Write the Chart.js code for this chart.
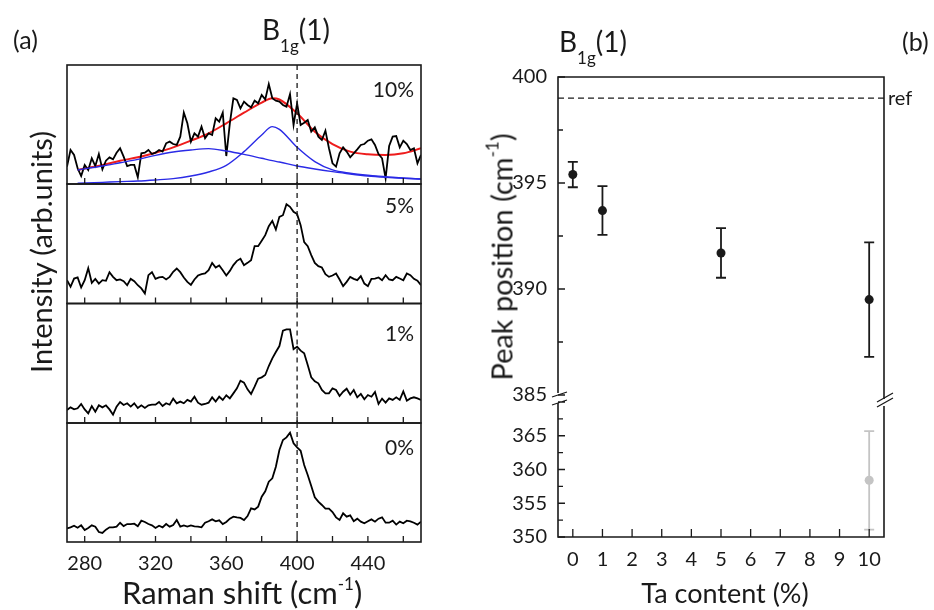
<!DOCTYPE html>
<html>
<head>
<meta charset="utf-8">
<script src="https://cdn.jsdelivr.net/npm/chart.js@4.4.0/dist/chart.umd.min.js"></script>
<style>
  body { margin: 0; background: #fff; }
  #figure { position: relative; width: 934px; height: 610px; overflow: hidden; font-family: Lato, "Open Sans", sans-serif; color: #1a1a1a; }
  #figure canvas { position: absolute; left: 0; top: 0; }
  .txt { position: absolute; white-space: nowrap; line-height: 1; z-index: 2; }
  .vtxt { position: absolute; white-space: nowrap; line-height: 1; z-index: 2; transform: translate(-50%, -50%) rotate(-90deg); }
  .txt sub, .vtxt sub { font-size: 17px; vertical-align: -12px; line-height: 0; }
  .txt sup, .vtxt sup { font-size: 17px; vertical-align: 14px; line-height: 0; }
</style>
</head>
<body>
<div id="figure">
  <div class="txt" style="left:13px; top:27px; font-size:25px;">(a)</div>
  <div class="txt" style="left:262px; top:15px; font-size:28px;">B<sub>1g</sub>(1)</div>
  <div class="txt" style="right:520px; top:78px; font-size:21px;">10%</div>
  <div class="txt" style="right:520px; top:194px; font-size:21px;">5%</div>
  <div class="txt" style="right:520px; top:322px; font-size:21px;">1%</div>
  <div class="txt" style="right:520px; top:436px; font-size:21px;">0%</div>
  <div class="vtxt" style="left:40px; top:252px; font-size:29px;">Intensity (arb.units)</div>
  <div class="txt" style="left:122px; top:577px; font-size:31px;">Raman shift (cm<sup>-1</sup>)</div>

  <div class="txt" style="left:559px; top:27px; font-size:28px;">B<sub>1g</sub>(1)</div>
  <div class="txt" style="left:902px; top:29px; font-size:25px;">(b)</div>
  <div class="txt" style="left:888px; top:87px; font-size:20px;">ref</div>
  <div class="vtxt" style="left:501px; top:257px; font-size:29px;">Peak position (cm<sup>-1</sup>)</div>
  <div class="txt" style="left:725px; top:579px; font-size:27px; transform:translateX(-50%);">Ta content (%)</div>
</div>

<script>
// Raman shift grid (cm-1) shared by the four spectra
const shift = [
  270, 272, 274, 276, 278, 280, 282, 284, 286, 288,
  290, 292, 294, 296, 298, 300, 302, 304, 306, 308,
  310, 312, 314, 316, 318, 320, 322, 324, 326, 328,
  330, 332, 334, 336, 338, 340, 342, 344, 346, 348,
  350, 352, 354, 356, 358, 360, 362, 364, 366, 368,
  370, 372, 374, 376, 378, 380, 382, 384, 386, 388,
  390, 392, 394, 396, 398, 400, 402, 404, 406, 408,
  410, 412, 414, 416, 418, 420, 422, 424, 426, 428,
  430, 432, 434, 436, 438, 440, 442, 444, 446, 448,
  450, 452, 454, 456, 458, 460, 462, 464, 466, 468,
  470
];

// intensities, arbitrary units (0 = bottom, 100 = top of each panel)
const spec10 = [
  14.6, 28.6, 24.4, 13.2, 6.7, 16, 11.8, 21.6, 15.1, 25.2,
  12.3, 19.6, 22.4, 20.7, 26.3, 30, 23, 15.1, 16, 16,
  5.6, 25.8, 26.3, 28.6, 25.2, 26.3, 28.6, 27.2, 34.2, 35.6,
  33.6, 32.8, 39.8, 59.9, 51, 35.6, 42.6, 39.8, 48.2, 38.4,
  42.6, 41.2, 55.2, 52.4, 59.9, 23.5, 51, 72, 70.6, 63.6,
  69.2, 66.4, 64.4, 70, 67.8, 74.8, 71.1, 84, 72, 70,
  69.2, 66.4, 65, 75.6, 49.6, 67.8, 49.6, 51.5, 53.8, 44,
  47.6, 39.8, 37, 44.8, 30, 17.4, 14.6, 25.8, 30.8, 27.2,
  22.4, 25.8, 29.1, 32.8, 33.6, 36.4, 37.5, 32.8, 25.2, 21.6,
  4.8, 31.9, 39.8, 40.3, 30.8, 36.4, 33.6, 28.6, 30, 17.4,
  24.4
];
const spec5 = [
  19.5, 14, 20.9, 21.8, 13.4, 19.5, 29.6, 17.3, 20.6, 16.7,
  19.5, 19, 26.2, 22.3, 19.5, 20.1, 18.7, 15.3, 20.6, 18.7,
  15.3, 12.6, 8.4, 23.7, 26.2, 20.6, 21.8, 22.3, 20.1, 22.3,
  26.5, 29.3, 26.2, 21.8, 18.1, 15.6, 20.1, 23.4, 24.6, 25.1,
  27.9, 34, 30.1, 31.8, 27.9, 23.4, 27.3, 32.1, 35.7, 37.4,
  32.1, 34, 36.3, 48, 48, 52.5, 57.2, 64.7, 69.2, 61.9,
  72.5, 73.9, 83.1, 80.9, 76.7, 74.8, 65.6, 51.3, 48, 40.5,
  34, 31.2, 30.1, 24.6, 22.3, 23.4, 25.1, 20.1, 14.5, 18.1,
  22.3, 20.6, 19.5, 22.9, 16.7, 14.5, 20.6, 20.9, 21.8, 19.5,
  23.7, 20.1, 19.5, 22.3, 20.9, 19.5, 25.1, 23.7, 20.6, 19,
  15.3
];
const spec1 = [
  10.9, 13.1, 11.4, 12.3, 15.9, 11.4, 8.1, 14.2, 9.5, 14.8,
  13.1, 14.8, 11.4, 7, 13.7, 17.6, 15.1, 16.5, 13.7, 16.5,
  12.6, 14.8, 12.6, 14.8, 15.3, 15.3, 17.6, 14.2, 16.5, 15.3,
  20.4, 16.5, 17.9, 16.5, 19.3, 17.9, 22, 17, 15.3, 15.9,
  17, 21.5, 17.9, 22, 19.3, 23.2, 20.6, 24.8, 29, 35.4,
  33.8, 28.2, 24.3, 30.4, 37.1, 38.2, 40.2, 47.7, 54.1, 59.4,
  64.4, 77.3, 78.4, 78.4, 61.7, 63.9, 60.5, 58.3, 48.5, 38.2,
  34.9, 33.2, 27.6, 24.8, 24.8, 29, 27.6, 22.6, 26.2, 28.7,
  23.7, 27.6, 21.5, 24.3, 19.8, 23.4, 22, 25.9, 15.9, 20.4,
  17, 20.6, 19.3, 21.5, 19.3, 26.5, 18.7, 20.6, 21.5, 20.6,
  19.3
];
const spec0 = [
  11.5, 12.3, 13.7, 12, 14, 10.1, 11.8, 14, 12.9, 8.4,
  7.6, 10.4, 12.3, 12.3, 12.9, 16.2, 13.4, 15.1, 15.1, 15.4,
  13.2, 17.9, 16.8, 15.1, 14, 11.8, 13.7, 12.3, 15.1, 12.9,
  14.3, 18.5, 12.9, 14, 12.9, 14, 13.2, 12.9, 12.3, 16.2,
  17.4, 19, 17.4, 18.2, 15.1, 16.8, 19.6, 21.3, 20.7, 20.2,
  18.5, 21.8, 28.3, 27.4, 29.7, 38.1, 42.6, 50.7, 53.5, 63.3,
  77.3, 85.7, 87.9, 91.8, 82.9, 79.5, 76.7, 64.7, 56.3, 47,
  37.5, 33.9, 31.1, 28, 28, 25.2, 20.7, 18.5, 24.1, 21.3,
  22.4, 17.4, 19.6, 17.1, 15.7, 17.4, 19, 17.1, 19.6, 20.7,
  16.2, 16.2, 17.9, 14.6, 17.1, 15.7, 17.9, 17.4, 16.2, 14.6,
  17.1
];

// two-peak fit of the 10% spectrum
const fitShift  = [276, 290, 300, 310, 320, 330, 340, 350, 360, 370, 380, 386, 390, 400, 410, 420, 430, 440, 450, 460, 470];
const fitTotal  = [11.8, 16, 19.6, 22.4, 26.3, 30.8, 36.4, 42.6, 51, 59.9, 68.3, 72, 71, 59.4, 44, 33.6, 27.2, 24.9, 24.4, 25.8, 30];
const fitBroad  = [11.8, 15.1, 17.9, 20.7, 24.1, 26.9, 28.6, 29.7, 27.7, 24.9, 21.6, 19.6, 18.5, 15.1, 12.6, 10.4, 8.4, 6.7, 5.6, 4.8, 4.2];
const fitNarrow = [0.6, 1.4, 2, 2.5, 3.4, 4.5, 6.7, 10.1, 15.7, 27.2, 41.2, 48.2, 45.9, 30.8, 18.8, 11.8, 9, 7.3, 6.2, 5, 4.2];

const shiftTicks  = [280, 300, 320, 340, 360, 380, 400, 420, 440, 460];
const shiftLabels = [280, 320, 360, 400, 440];
const modeLine = 400;

// peak position vs Ta content
const taContent = [0, 1, 5, 10];
const peakPos   = [395.4, 393.7, 391.7, 389.5];
const peakErr   = [0.6, 1.15, 1.17, 2.7];
const taSecond      = [10];
const peakPosSecond = [358.4];
const peakErrSecond = [7.3];
const refPeak = 399;
const taTicks = [0, 1, 2, 3, 4, 5, 6, 7, 8, 9, 10];
const upperTicks = [385, 390, 395, 400];
const lowerTicks = [350, 355, 360, 365];

const ink = '#1a1a1a';
const W = 934, H = 610;
const tickFont = { family: 'Lato', size: 20 };

function addCanvas() {
  const c = document.createElement('canvas');
  c.width = W;
  c.height = H;
  document.getElementById('figure').appendChild(c);
  return c;
}

function xy(xs, ys) {
  return xs.map((x, i) => ({ x, y: ys[i] }));
}

// fixed axis sizes, only for axes that are shown
function fixHeight(h) {
  return s => { if (s.options.display) s.height = h; };
}
function fixWidth(w) {
  return s => { if (s.options.display) s.width = w; };
}

// frame, inward ticks and the dashed 400 cm-1 marker of each spectrum panel
const spectrumFrame = {
  id: 'spectrumFrame',
  afterDatasetsDraw(chart) {
    const { ctx, chartArea: a, scales: { x } } = chart;
    ctx.save();
    ctx.strokeStyle = ink;
    ctx.lineWidth = 1.6;
    ctx.strokeRect(a.left, a.top, a.right - a.left, a.bottom - a.top);
    ctx.lineWidth = 1.3;
    ctx.beginPath();
    shiftTicks.forEach(v => {
      const px = x.getPixelForValue(v);
      ctx.moveTo(px, a.bottom);
      ctx.lineTo(px, a.bottom - 6);
    });
    ctx.stroke();
    ctx.setLineDash([5, 4]);
    const px = x.getPixelForValue(modeLine);
    ctx.beginPath();
    ctx.moveTo(px, a.top);
    ctx.lineTo(px, a.bottom);
    ctx.stroke();
    ctx.restore();
  }
};

const panels = [
  { top: 65, bottom: 184 },
  { top: 184, bottom: 303.5 },
  { top: 303.5, bottom: 423 },
  { top: 423, bottom: 542 }
];
const spectra = [spec10, spec5, spec1, spec0];

spectra.forEach((spec, i) => {
  const last = i === spectra.length - 1;
  const datasets = [];
  if (i === 0) {
    datasets.push(
      { data: xy(fitShift, fitBroad), borderColor: '#2a2ae6', borderWidth: 1.4, cubicInterpolationMode: 'monotone' },
      { data: xy(fitShift, fitNarrow), borderColor: '#2a2ae6', borderWidth: 1.4, cubicInterpolationMode: 'monotone' }
    );
  }
  datasets.push({ data: xy(shift, spec), borderColor: '#000', borderWidth: 1.8 });
  if (i === 0) {
    datasets.push({ data: xy(fitShift, fitTotal), borderColor: '#ee1c1c', borderWidth: 2, cubicInterpolationMode: 'monotone' });
  }
  const p = panels[i];
  new Chart(addCanvas(), {
    type: 'line',
    data: { datasets },
    options: {
      responsive: false,
      animation: false,
      devicePixelRatio: 1,
      elements: { point: { radius: 0 } },
      layout: { padding: { left: 67, right: W - 421, top: p.top, bottom: H - p.bottom - (last ? 40 : 0) } },
      plugins: { legend: { display: false }, tooltip: { enabled: false } },
      scales: {
        x: {
          type: 'linear', min: 270, max: 470,
          display: last,
          grid: { display: false, drawTicks: false },
          border: { display: false },
          afterBuildTicks: s => { s.ticks = shiftLabels.map(v => ({ value: v })); },
          ticks: { font: tickFont, color: ink, padding: 10, maxRotation: 0, autoSkip: false },
          afterFit: fixHeight(40)
        },
        y: { min: 0, max: 100, display: false }
      }
    },
    plugins: [spectrumFrame]
  });
});

// vertical error bars, drawn under the markers
const errorBars = {
  id: 'errorBars',
  beforeDatasetsDraw(chart) {
    const { ctx, scales: { y } } = chart;
    chart.data.datasets.forEach((ds, di) => {
      if (!ds.errors) return;
      const meta = chart.getDatasetMeta(di);
      ctx.save();
      ctx.strokeStyle = ds.borderColor;
      ctx.lineWidth = 1.8;
      meta.data.forEach((pt, i) => {
        const v = ds.data[i].y, e = ds.errors[i];
        const top = y.getPixelForValue(v + e), bot = y.getPixelForValue(v - e);
        ctx.beginPath();
        ctx.moveTo(pt.x, top); ctx.lineTo(pt.x, bot);
        ctx.moveTo(pt.x - 5, top); ctx.lineTo(pt.x + 5, top);
        ctx.moveTo(pt.x - 5, bot); ctx.lineTo(pt.x + 5, bot);
        ctx.stroke();
      });
      ctx.restore();
    });
  }
};

// open box of the broken y axis, inward ticks and break marks
const peakFrame = {
  id: 'peakFrame',
  afterDatasetsDraw(chart, args, opts) {
    const { ctx, chartArea: a, scales: { x, y } } = chart;
    ctx.save();
    ctx.strokeStyle = ink;
    ctx.lineWidth = 1.6;
    ctx.beginPath();
    if (opts.part === 'upper') {
      ctx.moveTo(a.left, a.bottom - 2);
      ctx.lineTo(a.left, a.top);
      ctx.lineTo(a.right, a.top);
      ctx.lineTo(a.right, a.bottom + 4);
    } else {
      ctx.moveTo(a.left, a.top + 1);
      ctx.lineTo(a.left, a.bottom);
      ctx.lineTo(a.right, a.bottom);
      ctx.lineTo(a.right, a.top + 4);
    }
    ctx.stroke();
    ctx.lineWidth = 1.3;
    ctx.beginPath();
    for (let v = y.min; v <= y.max; v += 2.5) {
      const py = y.getPixelForValue(v);
      const len = v % 5 === 0 ? 7 : 5;
      ctx.moveTo(a.left, py);
      ctx.lineTo(a.left + len, py);
    }
    if (opts.part === 'lower') {
      taTicks.forEach(v => {
        const px = x.getPixelForValue(v);
        ctx.moveTo(px, a.bottom);
        ctx.lineTo(px, a.bottom - 8);
      });
      // break marks between the two y ranges
      ctx.moveTo(a.left - 6, a.top - 5); ctx.lineTo(a.left + 9, a.top - 10);
      ctx.moveTo(a.left - 6, a.top + 3); ctx.lineTo(a.left + 9, a.top - 2);
      ctx.moveTo(a.right - 7, a.top); ctx.lineTo(a.right + 9, a.top - 9);
      ctx.moveTo(a.right - 7, a.top + 5); ctx.lineTo(a.right + 9, a.top - 4);
    }
    ctx.stroke();
    ctx.restore();
  }
};

function peakOptions(part, padding, yMin, yMax, yTicks) {
  return {
    responsive: false,
    animation: false,
    devicePixelRatio: 1,
    layout: { padding },
    plugins: { legend: { display: false }, tooltip: { enabled: false }, peakFrame: { part } },
    scales: {
      x: {
        type: 'linear', min: -0.5, max: 10.5,
        display: part === 'lower',
        grid: { display: false, drawTicks: false },
        border: { display: false },
        afterBuildTicks: s => { s.ticks = taTicks.map(v => ({ value: v })); },
        ticks: { font: tickFont, color: ink, padding: 11, maxRotation: 0, autoSkip: false },
        afterFit: fixHeight(40)
      },
      y: {
        min: yMin, max: yMax,
        grid: { display: false, drawTicks: false },
        border: { display: false },
        afterBuildTicks: s => { s.ticks = yTicks.map(v => ({ value: v })); },
        ticks: { font: tickFont, color: ink, padding: 11 },
        afterFit: fixWidth(50)
      }
    }
  };
}

new Chart(addCanvas(), {
  type: 'scatter',
  data: {
    datasets: [
      {
        data: xy(taContent, peakPos), errors: peakErr,
        pointRadius: 4.5, backgroundColor: ink, borderColor: ink, borderWidth: 0
      },
      {
        type: 'line', data: [{ x: -0.5, y: refPeak }, { x: 10.5, y: refPeak }],
        borderColor: ink, borderWidth: 1.3, borderDash: [6, 4], pointRadius: 0
      }
    ]
  },
  options: peakOptions('upper', { left: 508, right: W - 884, top: 77, bottom: H - 395 }, 385, 400, upperTicks),
  plugins: [errorBars, peakFrame]
});

new Chart(addCanvas(), {
  type: 'scatter',
  data: {
    datasets: [
      {
        data: xy(taSecond, peakPosSecond), errors: peakErrSecond,
        pointRadius: 4.5, backgroundColor: '#c4c4c4', borderColor: '#c4c4c4', borderWidth: 0
      }
    ]
  },
  options: peakOptions('lower', { left: 508, right: W - 884, top: 402, bottom: H - 537 - 40 }, 350, 370, lowerTicks),
  plugins: [errorBars, peakFrame]
});
</script>
</body>
</html>
